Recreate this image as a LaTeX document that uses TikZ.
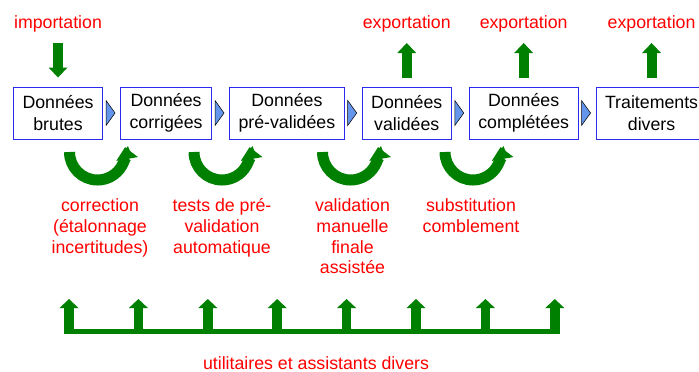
\documentclass[tikz,border=0pt]{standalone}
\usepackage{fontspec}
\setmainfont{Liberation Sans}
\usepackage{xcolor}
\usetikzlibrary{positioning,arrows.meta}
\definecolor{flowgreen}{HTML}{008000}
\definecolor{flowred}{HTML}{FF0000}
\definecolor{flowblue}{HTML}{2A2AF0}
\definecolor{flowtri}{HTML}{6495ED}
\tikzset{
  databox/.style={draw=flowblue,line width=0.2mm,minimum height=10.4mm,
    inner xsep=1.8mm,inner ysep=0pt,align=center,
    font=\fontsize{10.1}{12.5}\selectfont},
  redtext/.style={text=flowred,align=center,inner sep=0pt,
    font=\fontsize{10.1}{11.9}\selectfont},
  fat arrow/.style={draw=flowgreen,line width=2mm,
    -{Triangle[length=2mm,width=3.8mm,line width=0pt]}},
  loop arrow/.style={draw=flowgreen,line width=2.2mm,
    -{Triangle[length=2.4mm,width=4.4mm,line width=0pt]}},
  tool arrow/.style={draw=flowgreen,line width=1.9mm,
    -{Triangle[length=1.8mm,width=3.8mm,line width=0pt]}},
  bus/.style={draw=flowgreen,line width=1mm},
  chevron/.style={draw=black,fill=flowtri,line width=0.3pt,line join=miter}
}
\begin{document}
\begin{tikzpicture}[x=0.2mm,y=-0.2mm]
  \useasboundingbox (0,0) rectangle (699,371);
  % chaine des donnees
  \node[databox,anchor=west] (brutes) at (13,113) {Données\\brutes};
  \node[databox,right=3.4mm of brutes] (corrigees) {Données\\corrigées};
  \node[databox,right=3.4mm of corrigees] (prevalidees) {Données\\pré-validées};
  \node[databox,right=3.4mm of prevalidees] (validees) {Données\\validées};
  \node[databox,right=3.4mm of validees] (completees) {Données\\complétées};
  \node[databox,right=3.4mm of completees] (traitements) {Traitements\\divers};
  \foreach \a in {brutes,corrigees,prevalidees,validees,completees}
    \draw[chevron] ([xshift=0.6mm]\a.east) ++(0,-12.5) -- ++(9,12.5) -- ++(-9,12.5) -- cycle;

  % entrees et sorties
  \coordinate (top) at (0,28);
  \node[redtext,anchor=base] (import) at (brutes |- top) {importation};
  \draw[fat arrow,shorten <=2.2mm,shorten >=1.8mm] (import.south) -- (brutes.north);
  \foreach \b/\e in {validees/exp1,completees/exp2,traitements/exp3} {
    \node[redtext,anchor=base] (\e) at (\b |- top) {exportation};
    \draw[fat arrow,shorten <=1.8mm,shorten >=2.2mm] (\b.north) -- (\e.south);
  }

  % traitements entre les etapes
  \foreach \cx in {97.5,222,350.5,473}
    \draw[loop arrow] ({\cx-28},152) arc[start angle=180,end angle=-10,radius=28];
  \node[redtext,anchor=north] (correction) at (100,198) {correction\\(étalonnage\\incertitudes)};
  \node[redtext,anchor=north] (tests) at (222,198) {tests de pré-\\validation\\automatique};
  \node[redtext,anchor=north] (manuelle) at (352.5,198) {validation\\manuelle\\finale\\assistée};
  \node[redtext,anchor=north] (substitution) at (471,198) {substitution\\comblement};

  % outils communs
  \coordinate (busL) at (64,331.5);
  \coordinate (busR) at (560,331.5);
  \draw[bus] (busL) -- (busR);
  \foreach \i in {0,...,7}
    \draw[tool arrow] ({69+69.4*\i},334) -- ++(0,-35);
  \node[redtext,anchor=base] (outils) at (316,369) {utilitaires et assistants divers};
\end{tikzpicture}
\end{document}
